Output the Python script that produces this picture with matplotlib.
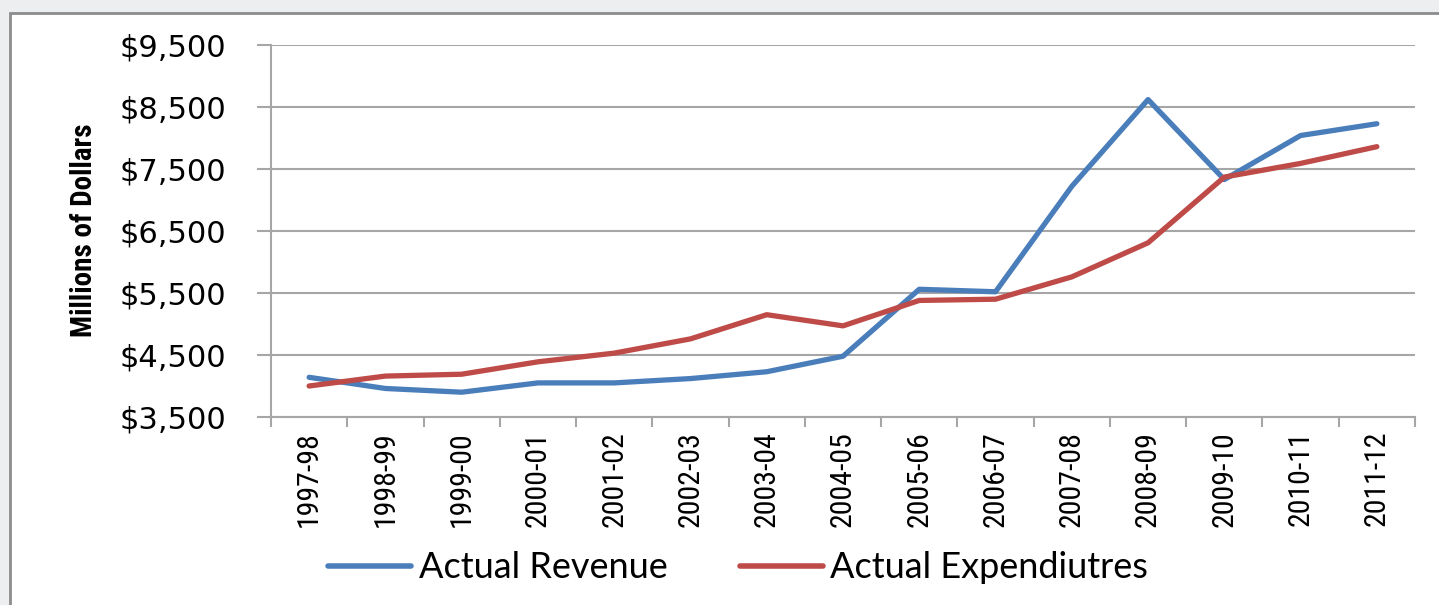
import numpy as np
import matplotlib.pyplot as plt
from matplotlib.patches import Rectangle
from matplotlib.ticker import FuncFormatter

# fiscal years shown on the x axis
years = ["1997-98", "1998-99", "1999-00", "2000-01", "2001-02", "2002-03", "2003-04",
         "2004-05", "2005-06", "2006-07", "2007-08", "2008-09", "2009-10", "2010-11", "2011-12"]

# millions of dollars
revenue = [4140, 3960, 3900, 4050, 4050, 4120, 4230, 4480, 5560, 5520, 7220, 8620, 7330, 8040, 8230]
expenditures = [4000, 4160, 4190, 4390, 4530, 4760, 5150, 4970, 5380, 5400, 5760, 6310, 7370, 7590, 7860]

BLUE = "#4a7ebb"
RED = "#be4b48"
GRID = "#a6a6a6"
NARROW = ["Liberation Sans Narrow", "Roboto Condensed", "Liberation Sans", "DejaVu Sans"]

fig = plt.figure(figsize=(14.39, 6.05), dpi=100, facecolor="#eceef0")

# white chart frame
fig.patches.append(Rectangle((10 / 1439, -0.05), 1.1, 1 - 13 / 605 + 0.05,
                             transform=fig.transFigure, facecolor="white",
                             edgecolor="#8c8c8c", linewidth=2, zorder=-10))

ax = fig.add_axes([271 / 1439, 1 - 417 / 605, (1415 - 271) / 1439, (417 - 45) / 605])
ax.set_facecolor("none")

x = np.arange(len(years))
ax.plot(x, revenue, color=BLUE, lw=3.8, label="Actual Revenue", solid_capstyle="round")
ax.plot(x, expenditures, color=RED, lw=3.8, label="Actual Expendiutres", solid_capstyle="round")

ax.set_xlim(-0.5, len(years) - 0.5)
ax.set_ylim(3500, 9500)
ax.set_yticks(np.arange(3500, 9501, 1000))
ax.yaxis.set_major_formatter(FuncFormatter(lambda v, p: "${:,.0f}".format(v)))
ax.grid(axis="y", color=GRID, lw=1.5)
ax.set_axisbelow(True)

# ticks at category boundaries, labels at centres
ax.set_xticks(np.arange(-0.5, len(years), 1))
ax.set_xticklabels([])
ax.set_xticks(x, minor=True)
ax.set_xticklabels(years, minor=True, rotation=90, fontsize=21.5, family=NARROW)
ax.tick_params(axis="x", which="major", length=7, width=1.5, color=GRID)
ax.tick_params(axis="x", which="minor", length=0, pad=10)
ax.tick_params(axis="y", length=10, width=1.5, color=GRID, labelsize=22, pad=22)

for s in ["top", "right"]:
    ax.spines[s].set_visible(False)
for s in ["left", "bottom"]:
    ax.spines[s].set_color(GRID)
    ax.spines[s].set_linewidth(1.5)

fig.text(84 / 1439, 1 - 230 / 605, "Millions of Dollars", rotation=90, ha="center", va="center",
         fontsize=21, fontweight="bold", family=NARROW)

leg = fig.legend(loc="center", bbox_to_anchor=(738 / 1439, 1 - 568 / 605), ncol=2,
                 frameon=False, handlelength=2.3, handletextpad=0.2, columnspacing=2.0,
                 prop={"family": ["Lato", "DejaVu Sans"], "size": 26})
for line in leg.get_lines():
    line.set_linewidth(4)

fig.savefig("out.png", dpi=100, facecolor=fig.get_facecolor())
